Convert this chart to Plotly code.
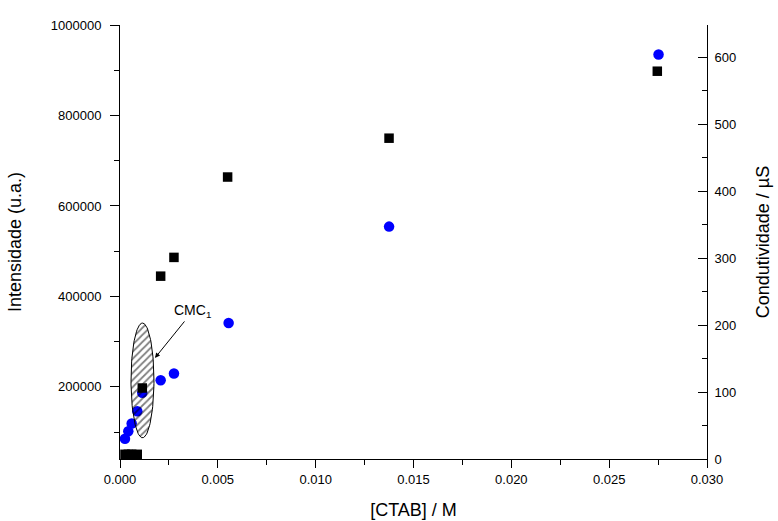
import numpy as np
import plotly.graph_objects as go

# ---- data ----
ctab_int = [0.000255, 0.000424, 0.000597, 0.000883, 0.001139, 0.002078,
            0.002757, 0.005551, 0.013752, 0.027524]
intensidade = [85400, 102200, 119200, 146300, 186900, 214700,
               229500, 341300, 554400, 934700]

ctab_cond = [0.000255, 0.000424, 0.000597, 0.000883, 0.001139, 0.002078,
             0.002757, 0.0055, 0.01375, 0.02746]
condutividade = [7, 7, 7, 7, 106, 273, 301, 421, 479, 579]

x_ticks = [0, 0.005, 0.010, 0.015, 0.020, 0.025, 0.030]
y1_ticks = [200000, 400000, 600000, 800000, 1000000]
y2_ticks = [0, 100, 200, 300, 400, 500, 600]

# CMC1 highlight ellipse (annotation, in data units of x / left y)
ell_cx, ell_cy = 0.001149, 214400
ell_rx, ell_ry = 0.000587, 126800
arrow_x, arrow_y = 0.001787, 264100

FONT = "Liberation Sans, Arial, sans-serif"

fig = go.Figure()

fig.add_trace(go.Scatter(
    x=ctab_cond, y=condutividade, mode="markers", yaxis="y2",
    marker=dict(symbol="square", size=9.5, color="black", line=dict(width=0)),
    showlegend=False, cliponaxis=True))

fig.add_trace(go.Scatter(
    x=ctab_int, y=intensidade, mode="markers", yaxis="y",
    marker=dict(symbol="circle", size=10.5, color="#0000FF", line=dict(width=0)),
    showlegend=False))

t = np.linspace(0, 2 * np.pi, 120)
fig.add_trace(go.Scatter(
    x=ell_cx + ell_rx * np.cos(t), y=ell_cy + ell_ry * np.sin(t),
    mode="lines", fill="toself", yaxis="y",
    line=dict(color="black", width=1),
    fillcolor="rgba(0,0,0,0)",
    fillpattern=dict(shape="/", fgcolor="black", bgcolor="rgba(0,0,0,0)",
                     size=5, solidity=0.35),
    showlegend=False, hoverinfo="skip"))

fig.add_annotation(
    x=arrow_x, y=arrow_y, xref="x", yref="y",
    text="CMC<sub>1</sub>", showarrow=True,
    ax=38, ay=-47, axref="pixel", ayref="pixel",
    arrowhead=2, arrowsize=1, arrowwidth=1, arrowcolor="black",
    font=dict(family=FONT, size=14, color="black"))

fig.update_layout(
    width=778, height=521,
    margin=dict(l=120, r=70.5, t=24.5, b=61.5, autoexpand=False),
    paper_bgcolor="white", plot_bgcolor="white",
    font=dict(family=FONT, color="black"),
    xaxis=dict(
        range=[0, 0.030], tickvals=x_ticks, tickformat=".3f", automargin=False,
        showline=True, linecolor="black", linewidth=1,
        ticks="outside", ticklen=8, tickcolor="black", tickwidth=1,
        minor=dict(dtick=0.0025, ticks="outside", ticklen=5, tickcolor="black"),
        showgrid=False, zeroline=False,
        tickfont=dict(size=13, family=FONT),
        title=dict(text="[CTAB] / M", font=dict(size=18, family=FONT), standoff=17),
    ),
    yaxis=dict(
        range=[40700, 1000000], tickvals=y1_ticks, tickformat="d", automargin=False,
        showline=True, linecolor="black", linewidth=1,
        ticks="outside", ticklen=9, tickcolor="black", tickwidth=1,
        minor=dict(dtick=100000, tick0=0, ticks="outside", ticklen=5, tickcolor="black"),
        showgrid=False, zeroline=False,
        ticklabelstandoff=6,
        tickfont=dict(size=13, family=FONT),
        title=dict(text="Intensidade (u.a.)", font=dict(size=18, family=FONT), standoff=24),
    ),
    yaxis2=dict(
        range=[0, 648], tickvals=y2_ticks, overlaying="y", side="right", automargin=False,
        showline=True, linecolor="black", linewidth=1,
        ticks="inside", ticklen=9, tickcolor="black", tickwidth=1,
        minor=dict(dtick=50, tick0=0, ticks="inside", ticklen=5, tickcolor="black"),
        showgrid=False, zeroline=False,
        ticklabelstandoff=4,
        tickfont=dict(size=13, family=FONT),
        title=dict(text="Condutividade / µS", font=dict(size=18, family=FONT), standoff=21),
    ),
)

fig.write_html(
    "out.html",
    config={"displayModeBar": False},
    post_script="document.body.style.margin='0px';document.body.style.overflow='hidden';",
)
